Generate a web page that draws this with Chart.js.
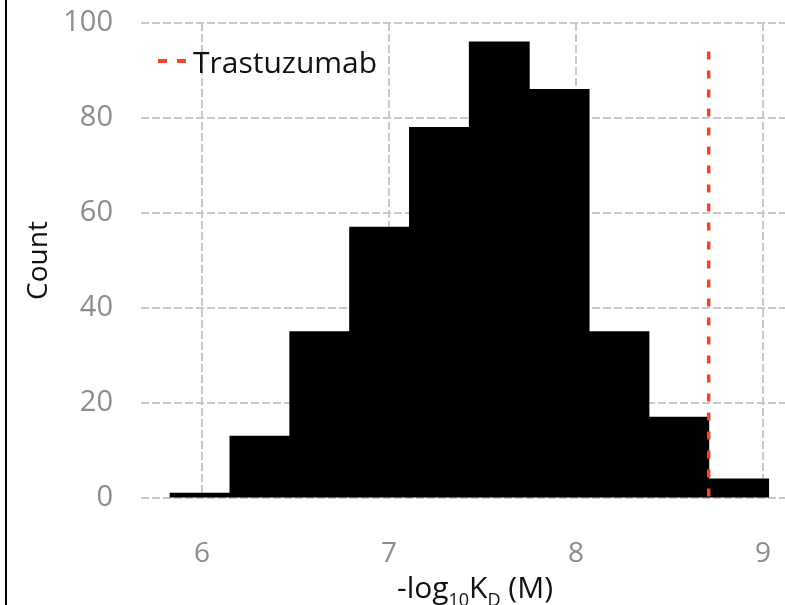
<!DOCTYPE html>
<html>
<head>
<meta charset="utf-8">
<script src="https://cdn.jsdelivr.net/npm/chart.js@4.4.0/dist/chart.umd.min.js"></script>
<style>
  html, body { margin: 0; padding: 0; background: #fff; }
  #wrap { position: relative; width: 785px; height: 605px; overflow: hidden; }
  #wrap canvas { position: absolute; left: 0; top: 0; }
  #frame { position: absolute; left: 5px; top: 0; width: 2px; height: 605px; background: #000; }
</style>
</head>
<body>
<div id="wrap">
  <canvas id="histCanvas" width="785" height="605"></canvas>
  <div id="frame"></div>
</div>
<script>
// histogram bins (edges) and counts per bin
const binEdges = [5.83, 6.15, 6.47, 6.79, 7.11, 7.43, 7.75, 8.07, 8.39, 8.71, 9.03];
const binCounts = [1, 13, 35, 57, 78, 96, 86, 35, 17, 4];

// reference antibody marker
const refLabel = 'Trastuzumab';
const refValue = 8.71;
const refTop = 94;

// axis ticks
const xTicks = [6, 7, 8, 9];
const yTicks = [0, 20, 40, 60, 80, 100];

const FONT = "'Open Sans', 'Liberation Sans', sans-serif";
const RED = '#f4452c';
const GRID = '#c9c9c9';
const TICK = '#8c8c8c';

const histPoints = binCounts.map((c, i) => ({ x: (binEdges[i] + binEdges[i + 1]) / 2, y: c }));

// legend drawn inside the plot + x title with subscripts
const overlay = {
    id: 'overlay',
    afterDraw(chart) {
        const ctx = chart.ctx;
        const area = chart.chartArea;
        ctx.save();

        // legend entry: dashed red line + label
        ctx.strokeStyle = RED;
        ctx.lineWidth = 4;
        ctx.setLineDash([9, 10]);
        ctx.beginPath();
        ctx.moveTo(158, 61);
        ctx.lineTo(186, 61);
        ctx.stroke();
        ctx.setLineDash([]);
        ctx.fillStyle = '#111';
        ctx.font = '30px ' + FONT;
        ctx.textBaseline = 'alphabetic';
        ctx.textAlign = 'left';
        ctx.fillText(chart.data.datasets[1].label, 193, 73);

        // x axis title: -log10 KD (M)
        const parts = [['-log', 0], ['10', 1], ['K', 0], ['D', 1], [' (M)', 0]];
        const big = '30px ' + FONT, small = '18px ' + FONT;
        let total = 0;
        parts.forEach(p => { ctx.font = p[1] ? small : big; total += ctx.measureText(p[0]).width; });
        let x = (area.left + area.right) / 2 + 12 - total / 2;
        const base = 598;
        ctx.fillStyle = '#111';
        parts.forEach(p => {
            ctx.font = p[1] ? small : big;
            ctx.fillText(p[0], x, p[1] ? base + 8 : base);
            x += ctx.measureText(p[0]).width;
        });
        ctx.restore();
    }
};

new Chart(document.getElementById('histCanvas'), {
    type: 'bar',
    data: {
        datasets: [
            {
                type: 'bar',
                label: 'Count',
                data: histPoints,
                backgroundColor: '#000',
                borderWidth: 0,
                inflateAmount: 0.5,
                barPercentage: 1,
                categoryPercentage: 1,
                order: 2
            },
            {
                type: 'line',
                label: refLabel,
                data: [{ x: refValue, y: refTop }, { x: refValue, y: 0 }],
                borderColor: RED,
                borderWidth: 3.5,
                borderDash: [8, 11],
                borderCapStyle: 'butt',
                pointRadius: 0,
                fill: false,
                order: 1
            }
        ]
    },
    options: {
        responsive: false,
        animation: false,
        layout: { padding: { top: 23, left: 0, right: 0, bottom: 0 } },
        plugins: { legend: { display: false }, tooltip: { enabled: false } },
        scales: {
            x: {
                type: 'linear',
                min: 5.674,
                max: 9.118,
                offset: false,
                afterBuildTicks: s => { s.ticks = xTicks.map(v => ({ value: v })); },
                afterFit: s => { s.height = 107; s.paddingLeft = 0; s.paddingRight = 0; },
                grid: { color: GRID, lineWidth: 2, drawTicks: false, offset: false },
                border: { display: false, dash: [8, 3] },
                ticks: { color: TICK, font: { family: FONT, size: 28 }, padding: 39, maxRotation: 0 }
            },
            y: {
                min: 0,
                max: 100,
                afterBuildTicks: s => { s.ticks = yTicks.map(v => ({ value: v })); },
                afterFit: s => { s.width = 141; s.paddingTop = 0; s.paddingBottom = 0; },
                grid: { color: GRID, lineWidth: 2, drawTicks: false },
                border: { display: false, dash: [8, 3] },
                ticks: { color: TICK, font: { family: FONT, size: 29 }, padding: 28 },
                title: {
                    display: true,
                    text: 'Count',
                    color: '#111',
                    font: { family: FONT, size: 28 },
                    padding: { top: 22, bottom: 0 }
                }
            }
        }
    },
    plugins: [overlay]
});
</script>
</body>
</html>
